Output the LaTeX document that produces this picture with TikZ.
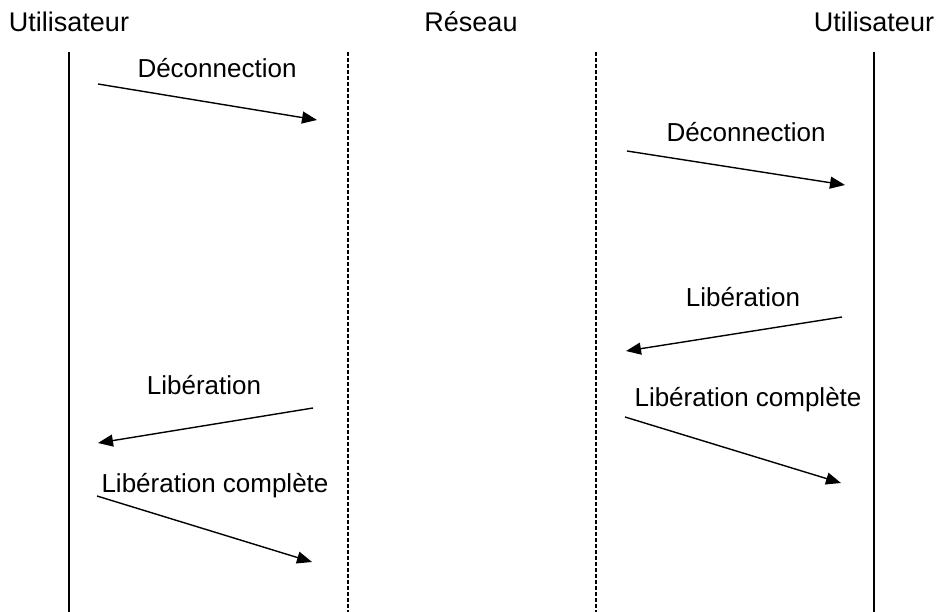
\documentclass[tikz,border=0pt]{standalone}
\usepackage{fontspec}
\setmainfont{Liberation Sans}
\usetikzlibrary{arrows.meta}
\begin{document}
\begin{tikzpicture}[x=1pt,y=-1pt,
  lbl/.style={font=\fontsize{26}{31}\selectfont, inner sep=0pt, anchor=base},
  head/.style={lbl, font=\fontsize{27}{32}\selectfont},
  msg/.style={line width=1.4pt, -{Triangle[length=15pt,width=12pt]}},
  userline/.style={line width=1.6pt},
  netline/.style={line width=1.1pt, dash pattern=on 4pt off 2pt}]
\useasboundingbox (0,0) rectangle (937,612);

% column headers
\node[head] (hU1) at (69,32) {Utilisateur};
\node[head] (hR)  at (471,32) {Réseau};
\node[head] (hU2) at (874,32) {Utilisateur};

% lifelines
\coordinate (u1t) at (69,52);  \coordinate (u1b) at (69,612);
\coordinate (n1t) at (348,52); \coordinate (n1b) at (348,612);
\coordinate (n2t) at (596,52); \coordinate (n2b) at (596,612);
\coordinate (u2t) at (874,52); \coordinate (u2b) at (874,612);
\draw[userline] (u1t) -- (u1b);
\draw[netline]  (n1t) -- (n1b);
\draw[netline]  (n2t) -- (n2b);
\draw[userline] (u2t) -- (u2b);

% message end points
\coordinate (d1s) at (98,84);   \coordinate (d1e) at (317,120);
\coordinate (d2s) at (627,151); \coordinate (d2e) at (845,185);
\coordinate (l2s) at (842,317); \coordinate (l2e) at (626,351);
\coordinate (l1s) at (313,408); \coordinate (l1e) at (98,443);
\coordinate (c1s) at (97,496);  \coordinate (c1e) at (312,562);
\coordinate (c2s) at (625,417); \coordinate (c2e) at (841,483);

% messages
\draw[msg] (d1s) -- (d1e);
\draw[msg] (d2s) -- (d2e);
\draw[msg] (l2s) -- (l2e);
\draw[msg] (l1s) -- (l1e);
\draw[msg] (c1s) -- (c1e);
\draw[msg] (c2s) -- (c2e);

% message labels
\node[lbl] (td1) at (217,78)  {Déconnection};
\node[lbl] (td2) at (746,142) {Déconnection};
\node[lbl] (tl2) at (743,306) {Libération};
\node[lbl] (tl1) at (204,394) {Libération};
\node[lbl] (tc1) at (215,492) {Libération complète};
\node[lbl] (tc2) at (748,406) {Libération complète};
\end{tikzpicture}
\end{document}
